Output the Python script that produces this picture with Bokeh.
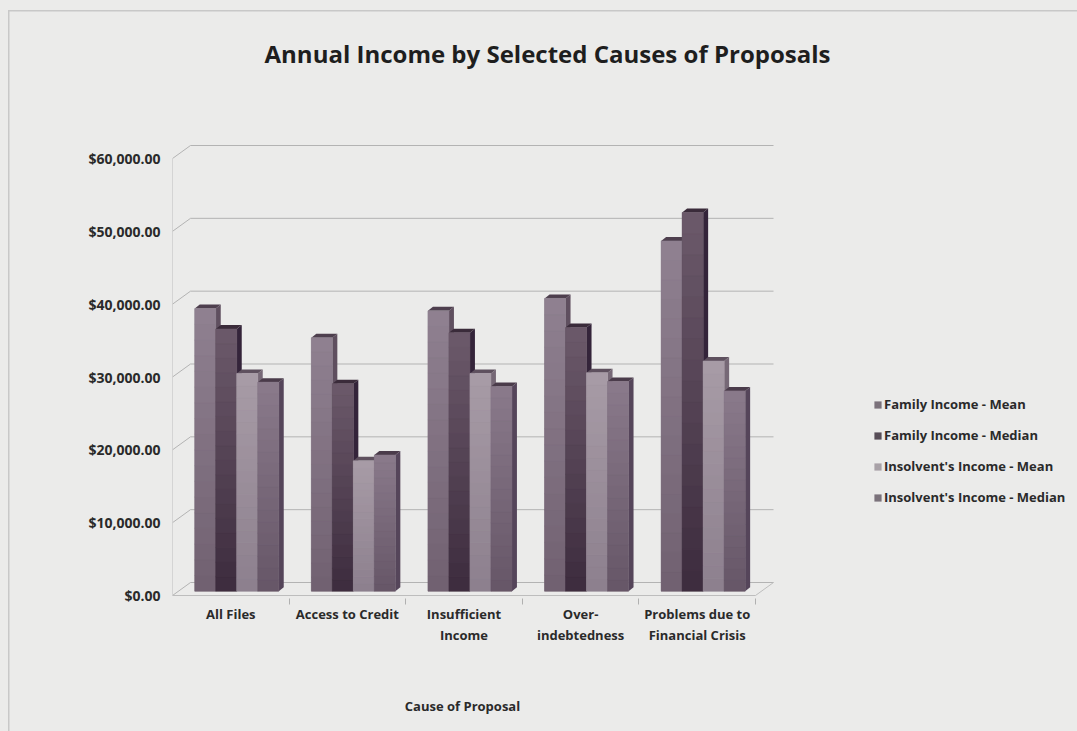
import numpy as np
from bokeh.plotting import figure
from bokeh.models import (ColumnDataSource, FixedTicker, NumeralTickFormatter,
                          Legend, LegendItem, Label, Range1d)
from bokeh.embed import file_html
from bokeh.resources import INLINE

# ---------------- data ----------------
categories = ["All Files", "Access to Credit", "Insufficient\nIncome",
              "Over-\nindebtedness", "Problems due to\nFinancial Crisis"]
series_names = ["Family Income - Mean", "Family Income - Median",
                "Insolvent's Income - Mean", "Insolvent's Income - Median"]
family_mean = [38800, 34800, 38500, 40200, 48100]
family_median = [36000, 28500, 35500, 36200, 52000]
insolvent_mean = [29900, 17900, 29900, 30000, 31600]
insolvent_median = [28700, 18700, 28100, 28800, 27500]
y_ticks = [0, 10000, 20000, 30000, 40000, 50000, 60000]

series_values = [family_mean, family_median, insolvent_mean, insolvent_median]

# ---------------- style ----------------
BG = "#ebebea"
TXT = "#2a2a2a"
FONT = "Open Sans"
face_top = ["#908191", "#6c5a6b", "#a89ca7", "#8b7b8b"]
face_bot = ["#716171", "#3d2c3e", "#8d808e", "#665667"]
side_col = ["#5f4f5f", "#34243a", "#766876", "#55455a"]
top_col = ["#4e3f4e", "#3a2b3a", "#5e505e", "#4a3b4a"]
legend_col = ["#7b727b", "#574d57", "#a8a1a7", "#7b727b"]

W, H = 1077, 731
FL, FR, FT, FB = 172, 1077, 0, 598     # frame (covers title & legend area)
PX_CAT = 116.6
X0 = -0.5
X1 = X0 + (FR - FL) / PX_CAT
ZERO_PX, TOP_PX = 595.0, 158.0
PX_VAL = (ZERO_PX - TOP_PX) / 60000.0
Y0 = -(FB - ZERO_PX) / PX_VAL
Y1 = 60000 + (TOP_PX - FT) / PX_VAL


def px_x(px):
    return X0 + (px - FL) / PX_CAT


def px_y(py):
    return (ZERO_PX - py) / PX_VAL


DX = 18 / PX_CAT          # depth of the 3-D box
DY = 13 / PX_VAL
F = 0.33                  # depth position of the bars
BDX, BDY = F * DX, F * DY
TDX, TDY = 5 / PX_CAT, 4 / PX_VAL   # bar thickness
BW = 21 / PX_CAT          # bar front width
NB = 18                   # gradient bands
XR = len(categories) - 0.5

p = figure(frame_width=FR - FL, frame_height=FB - FT,
           output_backend="svg", toolbar_location=None,
           x_range=Range1d(X0, X1), y_range=Range1d(Y0, Y1),
           min_border_left=FL, min_border_right=0,
           min_border_top=0, min_border_bottom=H - FB)
# one seamless page background (with the chart's thin outer border)
p.background_fill_alpha = 0
p.border_fill_alpha = 0
p.styles = {
    "background-color": BG,
    "background-image": ("linear-gradient(#c8c8c8, #c8c8c8), "
                         "linear-gradient(#c8c8c8, #c8c8c8)"),
    "background-size": "100% 1.5px, 1.5px 100%",
    "background-position": "8px 10px, 8px 10px",
    "background-repeat": "no-repeat",
}
p.outline_line_color = None
p.xgrid.visible = False
p.ygrid.visible = False

# ---- back wall gridlines & floor/side wall ----
wall_col = "#b3b3b3"
p.segment(x0=[X0 + DX] * len(y_ticks), y0=[t + DY for t in y_ticks],
          x1=[XR + DX] * len(y_ticks), y1=[t + DY for t in y_ticks],
          line_color=wall_col, line_width=1)
p.segment(x0=[X0] * len(y_ticks), y0=y_ticks,
          x1=[X0 + DX] * len(y_ticks), y1=[t + DY for t in y_ticks],
          line_color=wall_col, line_width=1)
p.segment(x0=[X0, X0, XR], y0=[0, 0, 0], x1=[X0, XR, XR + DX],
          y1=[y_ticks[-1], 0, DY], line_color="#bdbdbd", line_width=1)

# ---- bars ----
legend_items = []
for s, vals in enumerate(series_values):
    L, R, B, T, C = [], [], [], [], []
    sx, sy, tx, ty = [], [], [], []
    fl, fr_, fb, ft = [], [], [], []
    ct = np.array([int(face_top[s][i:i + 2], 16) for i in (1, 3, 5)])
    cb = np.array([int(face_bot[s][i:i + 2], 16) for i in (1, 3, 5)])
    for i, v in enumerate(vals):
        x0 = i - 2 * BW + BDX + s * BW
        x1 = x0 + BW
        fl.append(x0); fr_.append(x1); fb.append(BDY); ft.append(v + BDY)
        for k in range(NB):
            L.append(x0)
            R.append(x1)
            B.append(BDY + v * k / NB)
            T.append(BDY + v * (k + 1) / NB)
            fr = (k + 0.5) / NB
            c = (cb + (ct - cb) * fr).astype(int)
            C.append("#%02x%02x%02x" % tuple(c))
        sx.append([x1, x1 + TDX, x1 + TDX, x1])
        sy.append([BDY, BDY + TDY, v + BDY + TDY, v + BDY])
        tx.append([x0, x1, x1 + TDX, x0 + TDX])
        ty.append([v + BDY, v + BDY, v + BDY + TDY, v + BDY + TDY])
    p.patches(xs=sx, ys=sy, fill_color=side_col[s], line_color=None)
    p.patches(xs=tx, ys=ty, fill_color=top_col[s], line_color=None)
    base = p.quad(left=fl, right=fr_, bottom=fb, top=ft,
                  fill_color=legend_col[s], line_color=None)
    src = ColumnDataSource(dict(left=L, right=R, bottom=B, top=T, color=C))
    p.quad(left="left", right="right", bottom="bottom", top="top",
           fill_color="color", line_color="color", line_width=0.5, source=src)
    legend_items.append(LegendItem(label=series_names[s], renderers=[base]))

# ---- axes ----
xa = p.xaxis[0]
xa.ticker = FixedTicker(ticks=list(range(len(categories))),
                        minor_ticks=[0.5, 1.5, 2.5, 3.5, 4.5])
xa.major_label_overrides = {i: c for i, c in enumerate(categories)}
xa.axis_line_color = None
xa.major_tick_line_color = None
xa.major_tick_out = 0
xa.minor_tick_line_color = "#b0b0b0"
xa.minor_tick_in = 0
xa.minor_tick_out = 6
xa.major_label_standoff = 0
xa.major_label_text_font = FONT
xa.major_label_text_font_style = "bold"
xa.major_label_text_font_size = "13px"
xa.major_label_text_color = TXT
# the label is centred on the (wide) frame; trailing em spaces move the
# visible words to the centre of the category span
xa.axis_label = "Cause of Proposal" + "\u2003" * 25
xa.axis_label_text_font = FONT
xa.axis_label_text_font_style = "bold"
xa.axis_label_text_font_size = "13px"
xa.axis_label_text_color = TXT
xa.axis_label_standoff = 50

ya = p.yaxis[0]
ya.ticker = FixedTicker(ticks=y_ticks)
ya.formatter = NumeralTickFormatter(format="$0,0.00")
ya.axis_line_color = None
ya.major_tick_line_color = None
ya.major_tick_out = 0
ya.minor_tick_line_color = None
ya.major_label_standoff = 12
ya.major_label_text_font = FONT
ya.major_label_text_font_style = "bold"
ya.major_label_text_font_size = "14px"
ya.major_label_text_color = TXT

# ---- chart title ----
p.add_layout(Label(x=px_x(547), y=px_y(53),
                   text="Annual Income by Selected Causes of Proposals",
                   text_align="center", text_baseline="middle",
                   text_font=FONT, text_font_style="bold",
                   text_font_size="24px", text_color="#1e1e1e"))

# ---- legend ----
legend = Legend(items=legend_items, location=(701, 92), orientation="vertical",
                glyph_width=9, glyph_height=9, label_height=9, spacing=13,
                label_standoff=2, padding=0, margin=0,
                label_text_font=FONT, label_text_font_style="bold",
                label_text_font_size="13px", label_text_color=TXT,
                border_line_color=None, background_fill_alpha=0)
p.add_layout(legend, "center")

open("out.html", "w").write(file_html(p, INLINE))
